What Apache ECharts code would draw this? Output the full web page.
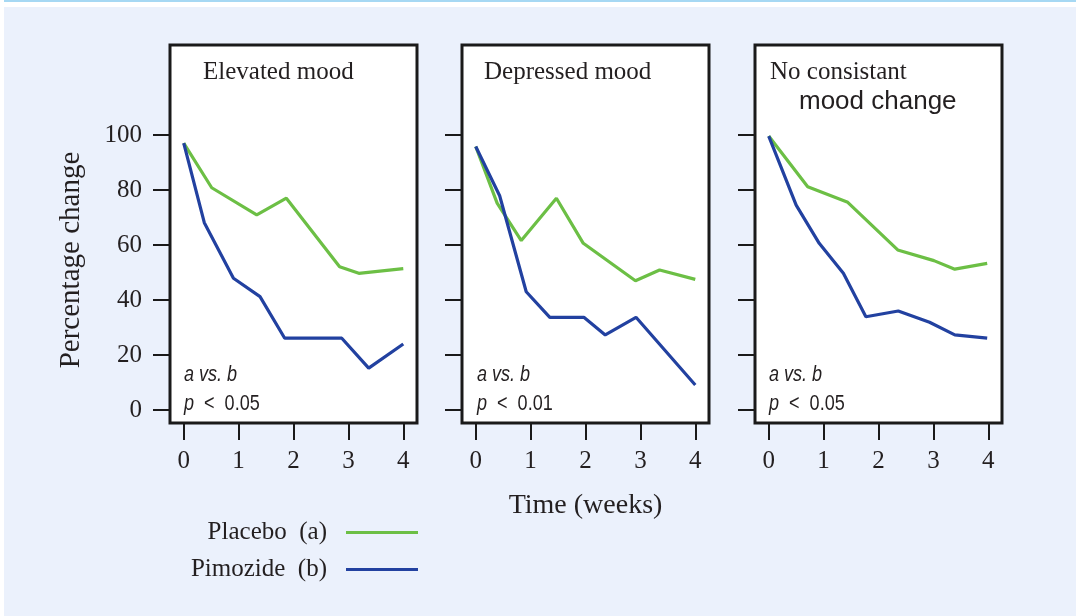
<!DOCTYPE html>
<html>
<head>
<meta charset="utf-8">
<script src="https://cdn.jsdelivr.net/npm/echarts@6/dist/echarts.min.js"></script>
<style>
  html, body { margin: 0; padding: 0; background: #ffffff; }
  #topline { position: absolute; left: 4px; top: 0; width: 1072px; height: 2px; background: #a6d8f3; }
  #bg { position: absolute; left: 4px; top: 7px; width: 1072px; height: 609px; background: #ebf1fc; }
  #chart { position: absolute; left: 0; top: 0; width: 1076px; height: 616px; }
</style>
</head>
<body>
<div id="topline"></div>
<div id="bg"></div>
<div id="chart"></div>
<script>
// ---- data (x = weeks, y = percentage change) ----
const panelTitles = ['Elevated mood', 'Depressed mood', 'No consistant'];
const pValues = ['p  <  0.05', 'p  <  0.01', 'p  <  0.05'];
const seriesNames = ['Placebo  (a)', 'Pimozide  (b)'];
const xTicks = [0, 1, 2, 3, 4];
const yTicks = [0, 20, 40, 60, 80, 100];

const elevatedPlacebo  = [[0, 97], [0.51, 80.8], [1.33, 70.9], [1.87, 77.0], [2.84, 52.1], [3.19, 49.7], [4, 51.4]];
const elevatedPimozide = [[0, 97], [0.375, 68.1], [0.906, 47.9], [1.39, 41.2], [1.84, 26.1], [2.88, 26.1], [3.37, 15.2], [4, 24.0]];
const depressedPlacebo  = [[0, 95.8], [0.39, 75.2], [0.83, 61.6], [1.47, 77.0], [1.96, 60.6], [2.91, 47.0], [3.35, 50.9], [4, 47.5]];
const depressedPimozide = [[0, 95.8], [0.436, 77.9], [0.92, 43.0], [1.35, 33.7], [1.97, 33.7], [2.36, 27.3], [2.92, 33.7], [4, 9.1]];
const noChangePlacebo  = [[0, 99.6], [0.71, 81.2], [1.44, 75.5], [2.35, 58.2], [3.01, 54.3], [3.39, 51.2], [3.98, 53.3]];
const noChangePimozide = [[0, 99.6], [0.5, 74.5], [0.92, 60.6], [1.36, 49.7], [1.77, 33.9], [2.36, 36.0], [2.93, 31.9], [3.39, 27.3], [3.98, 26.1]];

const placeboSets  = [elevatedPlacebo, depressedPlacebo, noChangePlacebo];
const pimozideSets = [elevatedPimozide, depressedPimozide, noChangePimozide];

// ---- styling ----
const GREEN = '#6cbf45';
const BLUE = '#2241a0';
const INK = '#231f20';
const SERIF = '"Liberation Serif", "Times New Roman", serif';
const SANS = '"Liberation Sans", Arial, sans-serif';
const panelLefts = [170, 462, 755];
const PW = 247, PT = 45, PH = 378;

const grids = [], xAxes = [], yAxes = [], series = [], graphics = [];
for (let i = 0; i < 3; i++) {
  grids.push({
    left: panelLefts[i], top: PT, width: PW, height: PH,
    show: true, backgroundColor: '#ffffff', borderColor: '#1a1a1a', borderWidth: 3
  });
  xAxes.push({
    gridIndex: i, type: 'value', min: -0.25, max: 4.25,
    axisLine: { show: false, onZero: false },
    splitLine: { show: false },
    axisTick: { show: true, inside: false, length: 17, customValues: xTicks, lineStyle: { color: '#1a1a1a', width: 2 } },
    axisLabel: { customValues: xTicks, margin: 26, fontFamily: SERIF, fontSize: 25, color: INK },
    name: i === 1 ? 'Time (weeks)' : '',
    nameLocation: 'middle', nameGap: 69,
    nameTextStyle: { fontFamily: SERIF, fontSize: 28, color: INK }
  });
  yAxes.push({
    gridIndex: i, type: 'value', min: -4.73, max: 132.7,
    axisLine: { show: false, onZero: false },
    splitLine: { show: false },
    axisTick: { show: true, inside: false, length: 17, customValues: yTicks, lineStyle: { color: '#1a1a1a', width: 2 } },
    axisLabel: { show: i === 0, customValues: yTicks, margin: 28, padding: [5, 0, 0, 0], fontFamily: SERIF, fontSize: 25, color: INK }
  });
  series.push({
    name: seriesNames[0], type: 'line', xAxisIndex: i, yAxisIndex: i,
    data: placeboSets[i], showSymbol: false, symbol: 'none',
    lineStyle: { color: GREEN, width: 3.2 }, itemStyle: { color: GREEN }, z: 2, animation: false
  });
  series.push({
    name: seriesNames[1], type: 'line', xAxisIndex: i, yAxisIndex: i,
    data: pimozideSets[i], showSymbol: false, symbol: 'none',
    lineStyle: { color: BLUE, width: 3.2 }, itemStyle: { color: BLUE }, z: 3, animation: false
  });
  // panel title
  graphics.push({
    type: 'text',
    x: [203, 484, 770][i], y: 72.5, z: 10,
    style: { text: panelTitles[i], font: '25px ' + SERIF, fill: INK, verticalAlign: 'middle', align: 'left' }
  });
  // stats annotation (condensed sans)
  const sx = [184, 477, 769][i];
  graphics.push({
    type: 'text', x: sx, y: 375, z: 10, scaleX: 0.82,
    style: { text: 'a vs. b', font: 'italic 22px ' + SANS, fill: INK, verticalAlign: 'middle', align: 'left' }
  });
  const pv = pValues[i];
  graphics.push({
    type: 'text', x: sx, y: 404, z: 10, scaleX: 0.82,
    style: {
      text: '{i|p}{n|' + pv.slice(1) + '}',
      verticalAlign: 'middle', align: 'left',
      rich: {
        i: { font: 'italic 22px ' + SANS, fill: INK },
        n: { font: '22px ' + SANS, fill: INK }
      }
    }
  });
}
graphics.push({
  type: 'text', x: 799, y: 101.5, z: 10,
  style: { text: 'mood change', font: '26px ' + SANS, fill: INK, verticalAlign: 'middle', align: 'left' }
});
// y-axis title
graphics.push({
  type: 'text', x: 71, y: 260, rotation: Math.PI / 2, z: 10,
  style: { text: 'Percentage change', font: '29px ' + SERIF, fill: INK, verticalAlign: 'middle', align: 'center' }
});

const legendCommon = {
  orient: 'horizontal', align: 'right', icon: 'rect',
  itemWidth: 72, itemHeight: 3, padding: 0, selectedMode: false,
  textStyle: { fontFamily: SERIF, fontSize: 25, color: INK, padding: [0, 14, 0, 0] }
};

const chart = echarts.init(document.getElementById('chart'), null, { renderer: 'canvas' });
chart.setOption({
  backgroundColor: 'transparent',
  animation: false,
  legend: [
    Object.assign({}, legendCommon, { data: [{ name: seriesNames[0], itemStyle: { color: GREEN } }], right: 658, top: 520 }),
    Object.assign({}, legendCommon, { data: [{ name: seriesNames[1], itemStyle: { color: BLUE } }], right: 658, top: 557 })
  ],
  grid: grids,
  xAxis: xAxes,
  yAxis: yAxes,
  series: series,
  graphic: graphics
});
</script>
</body>
</html>
